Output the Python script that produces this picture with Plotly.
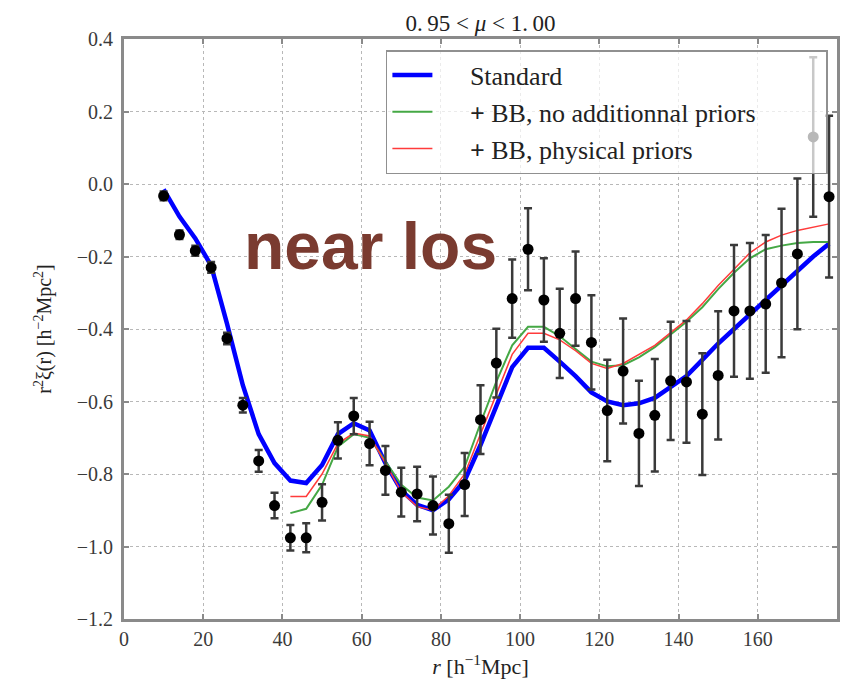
import plotly.graph_objects as go

# Separation bins [h^-1 Mpc]
r_data = [10, 14, 18, 22, 26, 30, 34, 38, 42, 46, 50, 54, 58, 62, 66, 70, 74, 78, 82, 86,
          90, 94, 98, 102, 106, 110, 114, 118, 122, 126, 130, 134, 138, 142, 146, 150,
          154, 158, 162, 166, 170, 174, 178]

# Measured r^2 xi(r) near the line of sight
xi_data = [-0.033, -0.140, -0.184, -0.230, -0.426, -0.610, -0.764, -0.887, -0.976, -0.976,
           -0.878, -0.707, -0.640, -0.716, -0.790, -0.850, -0.855, -0.887, -0.937, -0.829,
           -0.650, -0.494, -0.316, -0.180, -0.320, -0.412, -0.316, -0.437, -0.625, -0.516,
           -0.688, -0.638, -0.543, -0.546, -0.635, -0.528, -0.350, -0.350, -0.331, -0.273,
           -0.193, 0.130, -0.035]

xi_err = [0.012, 0.012, 0.014, 0.015, 0.016, 0.020, 0.030, 0.035, 0.035, 0.040,
          0.050, 0.050, 0.050, 0.060, 0.067, 0.067, 0.075, 0.080, 0.080, 0.087,
          0.095, 0.095, 0.108, 0.113, 0.115, 0.123, 0.130, 0.130, 0.140, 0.145,
          0.145, 0.155, 0.163, 0.168, 0.168, 0.177, 0.182, 0.187, 0.190, 0.205,
          0.208, 0.220, 0.223]

# Best-fit model: standard
r_std = r_data
xi_std = [-0.015, -0.090, -0.150, -0.225, -0.385, -0.555, -0.690, -0.770, -0.818, -0.825,
          -0.775, -0.690, -0.660, -0.680, -0.770, -0.845, -0.885, -0.900, -0.870, -0.818,
          -0.720, -0.610, -0.505, -0.452, -0.452, -0.490, -0.530, -0.575, -0.600, -0.610,
          -0.605, -0.590, -0.560, -0.530, -0.485, -0.440, -0.400, -0.360, -0.320, -0.280,
          -0.240, -0.200, -0.165]

# Best-fit models with broadband terms (fit range starts at 42 h^-1 Mpc)
r_bb = r_data[8:]
xi_bb_free = [-0.908, -0.896, -0.830, -0.725, -0.690, -0.700, -0.765, -0.830, -0.865, -0.873,
              -0.835, -0.780, -0.660, -0.545, -0.445, -0.394, -0.394, -0.420, -0.455, -0.490,
              -0.503, -0.500, -0.478, -0.450, -0.415, -0.380, -0.340, -0.290, -0.245, -0.205,
              -0.180, -0.170, -0.163, -0.160, -0.160]
xi_bb_phys = [-0.862, -0.862, -0.800, -0.716, -0.687, -0.695, -0.770, -0.850, -0.890, -0.900,
              -0.860, -0.800, -0.690, -0.580, -0.470, -0.412, -0.412, -0.430, -0.460, -0.495,
              -0.509, -0.495, -0.470, -0.445, -0.410, -0.375, -0.330, -0.280, -0.235, -0.190,
              -0.160, -0.141, -0.128, -0.118, -0.110]

x_ticks = [0, 20, 40, 60, 80, 100, 120, 140, 160, 180]
y_ticks = [-1.2, -1.0, -0.8, -0.6, -0.4, -0.2, 0.0, 0.2, 0.4]

SERIF = "Liberation Serif"
NB = "\u00a0"
LEAD = NB * 5   # space between legend sample and label
TAIL = NB * 10  # keeps the legend frame wide on the right

fig = go.Figure()

fig.add_trace(go.Scatter(x=r_std, y=xi_std, mode="lines", name=LEAD + "Standard",
                         line=dict(color="#0000ff", width=4.5), legendgroup="a"))
fig.add_trace(go.Scatter(x=r_bb, y=xi_bb_free, mode="lines",
                         name=LEAD + "<b>+</b> BB, no additionnal priors" + TAIL,
                         line=dict(color="#45a845", width=2), legendgroup="b"))
fig.add_trace(go.Scatter(x=r_bb, y=xi_bb_phys, mode="lines",
                         name=LEAD + "<b>+</b> BB, physical priors",
                         line=dict(color="#ff3b3b", width=1.5), legendgroup="c"))
fig.add_trace(go.Scatter(x=r_data, y=xi_data, mode="markers", showlegend=False,
                         marker=dict(color="black", size=11),
                         error_y=dict(type="data", array=xi_err, color="#3a3a3a",
                                      thickness=2.5, width=4)))

axis_common = dict(
    showline=True, linecolor="#8a8a8a", linewidth=3, mirror="ticks",
    ticks="inside", ticklen=5, tickcolor="#8a8a8a", tickwidth=1.5,
    showgrid=True, gridcolor="#b8b8b8", griddash="dot", gridwidth=1,
    zeroline=False,
    tickfont=dict(family=SERIF, size=20, color="#3a3a3a"),
)

fig.update_layout(
    width=844, height=691,
    margin=dict(l=124, r=4, t=39, b=72),
    paper_bgcolor="white", plot_bgcolor="white",
    title=dict(text="0.\u200995 < <i>μ</i> < 1.\u200900", x=0.5, xref="paper", xanchor="center",
               y=1 - 23 / 691, yanchor="middle",
               font=dict(family=SERIF, size=23, color="#222")),
    xaxis=dict(range=[0, 180], tickvals=x_ticks, ticktext=[str(v) for v in x_ticks],
               title=dict(text="<i>r</i> [h<sup>−1</sup>Mpc]", standoff=10,
                          font=dict(family=SERIF, size=22, color="#222")),
               **axis_common),
    yaxis=dict(range=[-1.2, 0.4], tickvals=y_ticks,
               ticktext=[f"{v:.1f}".replace("-", "−") for v in y_ticks],
               ticklabelstandoff=4,
               title=dict(text="r<sup>2</sup>ξ(r) [h<sup>−2</sup>Mpc<sup>2</sup>]", standoff=20,
                          font=dict(family=SERIF, size=20, color="#222")),
               **axis_common),
    legend=dict(x=(387 - 124) / 716, y=(619 - 50) / 580, xanchor="left", yanchor="top",
                bgcolor="rgba(255,255,255,0.72)", bordercolor="#909090", borderwidth=1.5,
                font=dict(family=SERIF, size=26, color="#222"),
                tracegroupgap=0, itemwidth=40),
    showlegend=True,
)

fig.add_annotation(text="<b>near los</b>", xref="paper", yref="paper",
                   x=(242 - 124) / 716, y=(619 - 246) / 580, xanchor="left", yanchor="middle",
                   showarrow=False,
                   font=dict(family="Liberation Sans", size=66, color="#7a3b30"))

fig.write_html("out.html")
